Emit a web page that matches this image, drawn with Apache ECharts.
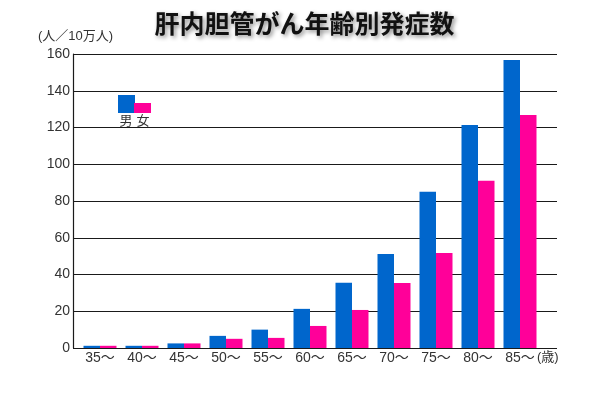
<!DOCTYPE html>
<html><head><meta charset="utf-8">
<script src="https://cdn.jsdelivr.net/npm/echarts@6/dist/echarts.min.js"></script>
<style>html,body{margin:0;padding:0;background:#fff}#c{width:609px;height:393px}</style>
</head><body><div id="c"></div>
<script>
const categories = ['35～','40～','45～','50～','55～','60～','65～','70～','75～','80～','85～'];
const male = [1.2, 1.2, 2.5, 6.6, 10, 21.3, 35.5, 51.2, 85, 121.4, 156.7];
const female = [1.2, 1.2, 2.5, 5.0, 5.5, 12, 20.7, 35.4, 51.7, 91, 126.8];
const yTicks = {min: 0, max: 160, interval: 20};

const font = '"Noto Sans CJK JP", "Noto Sans", sans-serif';
const numFont = '"Liberation Sans", "Noto Sans CJK JP", sans-serif';
const chart = echarts.init(document.getElementById('c'), null, {renderer: 'canvas'});
chart.setOption({
  animation: false,
  backgroundColor: '#fff',
  title: {
    text: '肝内胆管がん年齢別発症数',
    left: 'center', top: 6,
    textStyle: {fontFamily: font, fontSize: 25, fontWeight: 'bold', color: '#111',
      textShadowColor: 'rgba(0,0,0,0.45)', textShadowBlur: 4, textShadowOffsetX: 2, textShadowOffsetY: 2}
  },
  grid: [
    {left: 73, right: 52, top: 54, bottom: 45},
    {left: 79, width: 462, top: 54, bottom: 45}
  ],
  xAxis: [
    {gridIndex: 0, type: 'category', data: [''], show: false},
    {gridIndex: 1, type: 'category', data: categories,
      axisLine: {show: false}, axisTick: {show: false},
      axisLabel: {color: '#333', fontFamily: numFont, fontSize: 14, margin: 3}}
  ],
  yAxis: [
    {gridIndex: 0, type: 'value', min: yTicks.min, max: yTicks.max, interval: yTicks.interval,
      axisLine: {show: true, lineStyle: {color: '#1a1a1a', width: 1.2}},
      axisTick: {show: false},
      axisLabel: {color: '#333', fontFamily: numFont, fontSize: 14, margin: 3},
      splitLine: {show: true, lineStyle: {color: '#1a1a1a', width: 1.2}}},
    {gridIndex: 1, type: 'value', min: yTicks.min, max: yTicks.max, show: false, splitLine: {show: false}}
  ],
  series: [
    {name: '男', type: 'bar', xAxisIndex: 1, yAxisIndex: 1, data: male, barWidth: 16.5, barGap: '0%',
      itemStyle: {color: '#0066cc'}},
    {name: '女', type: 'bar', xAxisIndex: 1, yAxisIndex: 1, data: female, barWidth: 16.5, barGap: '0%',
      itemStyle: {color: '#ff0099'}}
  ],
  graphic: [
    {type: 'text', style: {x: 38, y: 30, text: '(人／10万人)', fill: '#333', font: '13px ' + numFont}},
    {type: 'rect', shape: {x: 118, y: 95, width: 17, height: 18}, style: {fill: '#0066cc'}},
    {type: 'rect', shape: {x: 134, y: 103, width: 17, height: 10}, style: {fill: '#ff0099'}},
    {type: 'text', style: {x: 126, y: 114, text: '男', textAlign: 'center', fill: '#333', font: '13px ' + font}},
    {type: 'text', style: {x: 143, y: 114, text: '女', textAlign: 'center', fill: '#333', font: '13px ' + font}},
    {type: 'text', style: {x: 537, y: 351, text: '(歳)', fill: '#333', font: '13px ' + numFont}}
  ]
});
</script></body></html>
